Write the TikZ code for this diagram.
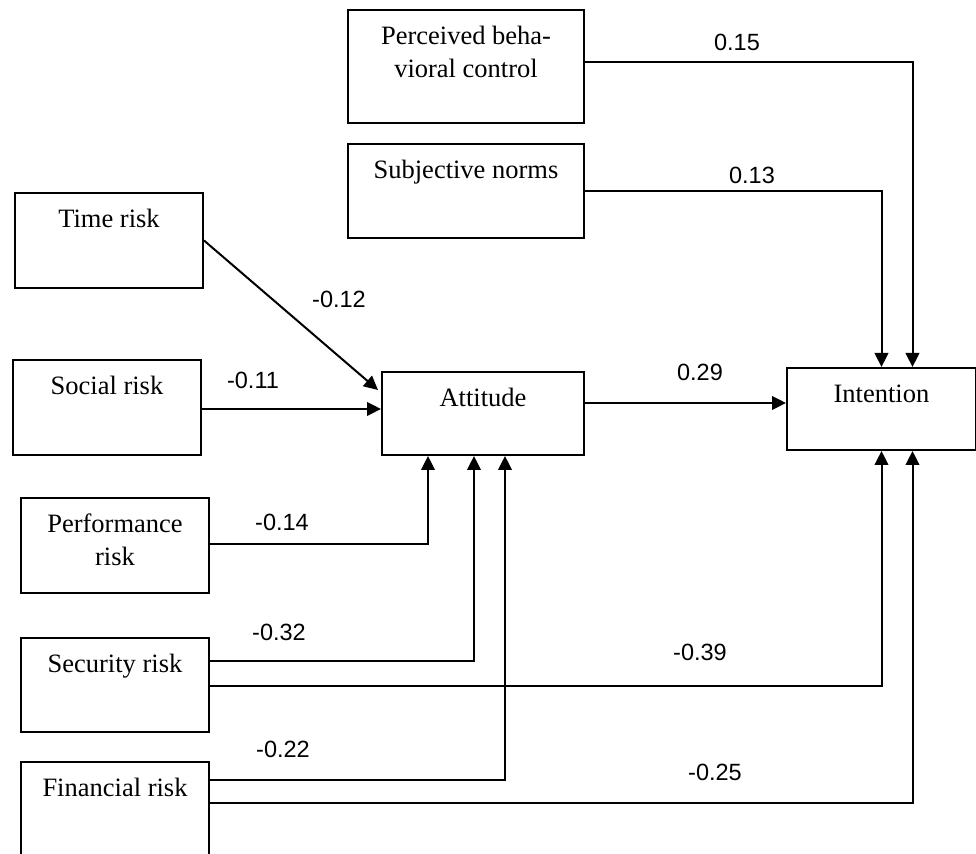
\documentclass[tikz,border=0pt]{standalone}
\usepackage{fontspec}
\setmainfont{Liberation Serif}
\newfontfamily\numfont{Liberation Sans}
\usetikzlibrary{arrows.meta,calc}
\newcommand\bxt[3]{\parbox[c][#2][t]{#1}{\centering\vspace*{7.5pt}\rule{0pt}{10pt}#3\par}}
\begin{document}
\begin{tikzpicture}[x=0.5pt,y=-0.5pt,
  box/.style={draw, line width=1pt, inner sep=0pt, anchor=north west, font=\fontsize{13.25}{16.5}\selectfont},
  conn/.style={line width=1pt, -{Triangle[length=7pt,width=6.8pt]}},
  coef/.style={font=\numfont\fontsize{11.75}{14}\selectfont, inner sep=0pt}]
\useasboundingbox (0,0) rectangle (976,854);
\clip (0,0) rectangle (976,854);
\fill[white] (0,0) rectangle (976,854);

\node[box] (pbc) at (347,9) {\bxt{118pt}{56.5pt}{Perceived beha-\\vioral control}};
\node[box] (sn) at (347,143) {\bxt{118pt}{47pt}{Subjective norms}};
\node[box] (time) at (14,192) {\bxt{94pt}{47.5pt}{Time risk}};
\node[box] (social) at (12,359) {\bxt{94pt}{47.5pt}{Social risk}};
\node[box] (att) at (381,371) {\bxt{101pt}{41.5pt}{Attitude}};
\node[box] (int) at (786,367) {\bxt{94.5pt}{41pt}{Intention}};
\node[box] (perf) at (20,497) {\bxt{94pt}{47.5pt}{Performance\\risk}};
\node[box] (sec) at (20,637) {\bxt{94pt}{47pt}{Security risk}};
\node[box] (fin) at (20,761) {\bxt{94pt}{48pt}{Financial risk}};

\node[coef] (c15) at (737,42) {0.15};
\node[coef] (c13) at (752,175) {0.13};
\node[coef] (c12) at (339,299) {-0.12};
\node[coef] (c11) at (253,380) {-0.11};
\node[coef] (c29) at (700,372) {0.29};
\node[coef] (c14) at (282,522) {-0.14};
\node[coef] (c32) at (279,632) {-0.32};
\node[coef] (c39) at (700,652) {-0.39};
\node[coef] (c22) at (283,749) {-0.22};
\node[coef] (c25) at (715,772) {-0.25};

\draw[conn] ($(pbc.north east)+(0,53)$) -| ($(int.north)+(31,0)$);
\draw[conn] ($(sn.north east)+(0,48)$) -| (int.north);
\draw[conn] (time.east) -- ($(att.north west)+(-3,19)$);
\draw[conn] ($(social.north east)+(0,50)$) coordinate (s1) -- (s1 -| att.west);
\draw[conn] ($(att.north east)+(0,32)$) coordinate (a1) -- (a1 -| int.west);
\draw[conn] ($(perf.north east)+(0,47)$) -| ($(att.south)+(-55,0)$);
\draw[conn] ($(sec.north east)+(0,24)$) -| ($(att.south)+(-9,0)$);
\draw[conn] ($(sec.north east)+(0,49)$) -| (int.south);
\draw[conn] ($(fin.north east)+(0,19)$) -| ($(att.south)+(22,0)$);
\draw[conn] ($(fin.north east)+(0,42)$) -| ($(int.south)+(31,0)$);
\end{tikzpicture}
\end{document}
